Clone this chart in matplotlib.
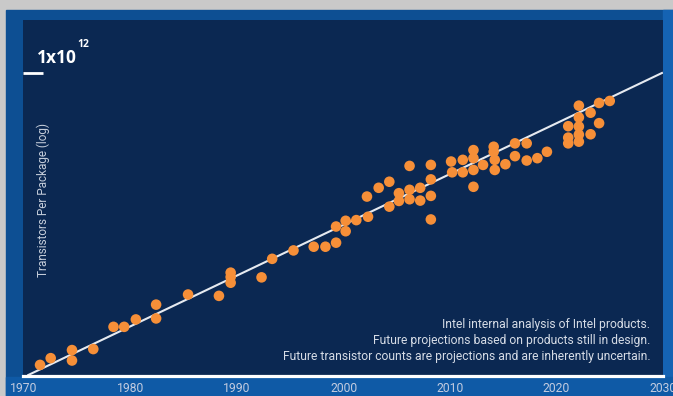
import matplotlib.pyplot as plt
from matplotlib.patches import Rectangle
import numpy as np

# chart data (year, log10 of transistors per package)
years = [1971.5, 1972.5, 1974.5, 1974.5, 1976.5, 1978.4, 1979.4, 1980.5, 1982.4, 1982.4,
         1985.4, 1988.3, 1989.4, 1989.4, 1989.4, 1992.3, 1993.3, 1995.3, 1997.2, 1998.3,
         1999.3, 1999.3, 2000.2, 2000.2, 2001.2, 2002.3, 2002.2, 2003.3, 2004.3, 2004.3,
         2005.2, 2005.2, 2006.2, 2006.2, 2006.2, 2007.2, 2007.2, 2008.2, 2008.2, 2008.2,
         2008.2, 2010.1, 2010.2, 2011.2, 2011.2, 2012.2, 2012.2, 2012.2, 2012.2, 2013.1,
         2014.1, 2014.1, 2014.2, 2014.2, 2015.2, 2016.1, 2016.1, 2017.2, 2017.2, 2018.2,
         2019.1, 2021.1, 2021.1, 2021.1, 2022.1, 2022.1, 2022.1, 2022.1, 2022.1, 2023.2,
         2023.2, 2024.0, 2024.0, 2025.0]
log_counts = [3.33, 3.53, 3.77, 3.46, 3.80, 4.46, 4.46, 4.68, 5.12, 4.71,
              5.42, 5.38, 6.07, 5.94, 5.77, 5.93, 6.48, 6.73, 6.84, 6.84,
              6.96, 7.44, 7.61, 7.30, 7.63, 7.73, 8.33, 8.59, 8.77, 8.03,
              8.43, 8.20, 9.24, 8.53, 8.25, 8.59, 8.21, 9.27, 8.84, 8.35,
              7.65, 9.37, 9.05, 9.42, 9.05, 9.71, 9.47, 9.12, 8.62, 9.27,
              9.81, 9.66, 9.42, 9.12, 9.29, 9.91, 9.53, 9.91, 9.40, 9.47,
              9.66, 10.42, 10.08, 9.91, 11.03, 10.68, 10.41, 10.17, 9.96, 10.82,
              10.18, 11.11, 10.51, 11.17]

trend_years = [1970.4, 2029.9]
trend_log = [3.03, 12.0]

tick_years = [1970, 1980, 1990, 2000, 2010, 2020, 2030]
ylabel = 'Transistors Per Package (log)'
notes = ['Intel internal analysis of Intel products.',
         'Future projections based on products still in design.',
         'Future transistor counts are projections and are inherently uncertain.']

W, H = 673, 396
fig = plt.figure(figsize=(W / 100, H / 100), dpi=100)
fig.patch.set_facecolor('#c9c9c9')

# blue frame around the panel
fig.add_artist(Rectangle((6 / W, 0), 1, (H - 10) / H, transform=fig.transFigure,
                         color='#0d4f93', zorder=0))
fig.add_artist(Rectangle((663 / W, 0), 1, (H - 10) / H, transform=fig.transFigure,
                         color='#1563b3', zorder=0))
fig.add_artist(Rectangle((6 / W, 0), 1, 19 / H, transform=fig.transFigure,
                         color='#0f5aa6', zorder=0))

ax = fig.add_axes([23 / W, 20 / H, 640 / W, 356 / H])
ax.set_facecolor('#0b2852')

ax.plot(trend_years, 10 ** np.array(trend_log), color='#e6eaf0', lw=1.5, zorder=2)
ax.scatter(years, 10 ** np.array(log_counts), s=58, color='#f68f38',
           edgecolors='none', zorder=3)

ax.set_yscale('log')
ax.set_xlim(1969.9, 2030.0)
ax.set_ylim(1e3, 10 ** 13.574)

for side in ['top', 'left', 'right']:
    ax.spines[side].set_visible(False)
ax.spines['bottom'].set_color('white')
ax.spines['bottom'].set_linewidth(2.3)

ax.set_xticks(tick_years)
ax.set_xticklabels([str(y) for y in tick_years])
ax.tick_params(axis='x', length=0, pad=4.5, labelsize=8.7, labelcolor='#c3cce0')
for lab in ax.get_xticklabels():
    lab.set_family('Roboto')

ax.set_yticks([1e12])
ax.yaxis.set_minor_locator(plt.NullLocator())
ax.tick_params(axis='y', length=14.4, width=2, direction='in', color='white',
               labelleft=False)

ax.text(0.0223, 0.878, '1x10', transform=ax.transAxes, color='white',
        fontsize=12.5, fontweight='bold', family='Open Sans', va='baseline')
ax.text(0.0855, 0.923, '12', transform=ax.transAxes, color='white',
        fontsize=7.5, fontweight='bold', family='Open Sans', va='baseline')

ax.text(0.031, 0.494, ylabel, transform=ax.transAxes, rotation=90, color='#c6cedb',
        fontsize=8.5, family='Roboto', ha='center', va='center')

for i, line in enumerate(notes):
    ax.text(0.98, 0.144 - i * 0.045, line, transform=ax.transAxes, color='#d6dce6',
            fontsize=8.7, family='Roboto', ha='right', va='center')

fig.savefig('out.png', dpi=100, facecolor=fig.get_facecolor())
